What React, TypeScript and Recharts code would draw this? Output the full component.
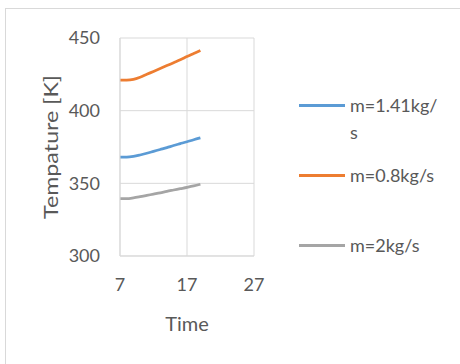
import React from "react";
import { LineChart, Line, XAxis, YAxis, CartesianGrid, Legend } from "recharts";

const times = [7, 8, 9, 10, 11, 12, 13, 14, 15, 16, 17, 18, 19];
const m141 = [368, 368, 368.5, 369.5, 370.7, 372, 373.3, 374.6, 376, 377.3, 378.6, 380, 381.3];
const m08 = [421, 421, 421.5, 423, 425, 427, 429, 431, 433, 435, 437.2, 439.3, 441.4];
const m2 = [339.5, 339.5, 340, 340.8, 341.7, 342.6, 343.5, 344.5, 345.4, 346.3, 347.2, 348.2, 349.4];
const xTicks = [7, 17, 27];
const yTicks = [300, 350, 400, 450];

const series = [
  { key: "a", name: "m=1.41kg/s", color: "#5B9BD5", values: m141 },
  { key: "b", name: "m=0.8kg/s", color: "#ED7D31", values: m08 },
  { key: "c", name: "m=2kg/s", color: "#A5A5A5", values: m2 },
];

const data = times.map((t, i) => ({ t, a: m141[i], b: m08[i], c: m2[i] }));

const font = "Lato, 'Open Sans', sans-serif";
const txt = "#595959";
const grid = "#D9D9D9";

// legend drawn in series order (recharts would sort it by name)
function LegendBox() {
  return (
    <div style={{ fontFamily: font, fontSize: 18, color: txt }}>
      {series.map((s) => (
        <div key={s.key} style={{ display: "flex", height: 70, alignItems: "flex-start" }}>
          <div style={{ width: 46, height: 27, display: "flex", alignItems: "center", marginRight: 5 }}>
            <div style={{ width: 46, height: 3, background: s.color }} />
          </div>
          <div style={{ width: 90, lineHeight: "27px", overflowWrap: "anywhere" }}>{s.name}</div>
        </div>
      ))}
    </div>
  );
}

// y title is taller in the original, so stretch it along its length
function YTitle(props: any) {
  const vb = props.viewBox || {};
  const cx = 50;
  const cy = vb.y + vb.height / 2;
  return (
    <text
      x={cx}
      y={cy}
      transform={`rotate(-90, ${cx}, ${cy})`}
      textAnchor="middle"
      dominantBaseline="central"
      fill={txt}
      fontSize={19}
      fontFamily={font}
      textLength={144}
      lengthAdjust="spacingAndGlyphs"
    >
      Tempature [K]
    </text>
  );
}

function XTitle(props: any) {
  const vb = props.viewBox || {};
  const cx = vb.x + vb.width / 2;
  const cy = vb.y + 67;
  return (
    <text x={cx} y={cy} textAnchor="middle" dominantBaseline="central" fill={txt} fontSize={20} fontFamily={font}>
      Time
    </text>
  );
}

export default function App() {
  return (
    <div style={{ position: "absolute", left: 0, top: 0, width: 460, height: 364, overflow: "hidden", background: "#fff" }}>
      <div style={{ position: "absolute", left: 5, top: 8, width: 480, height: 400, border: `1px solid ${grid}` }} />
      <LineChart
        width={460}
        height={364}
        data={data}
        margin={{ top: 38, right: 206, bottom: 48, left: 60 }}
        style={{ fontFamily: font }}
      >
        <CartesianGrid stroke={grid} strokeWidth={1} />
        <XAxis
          dataKey="t"
          type="number"
          domain={[7, 27]}
          ticks={xTicks}
          height={60}
          tickLine={false}
          axisLine={{ stroke: grid }}
          tick={{ fill: txt, fontSize: 18 }}
          tickMargin={16}
          label={<XTitle />}
        />
        <YAxis
          type="number"
          domain={[300, 450]}
          ticks={yTicks}
          width={60}
          tickLine={false}
          axisLine={{ stroke: grid }}
          tick={{ fill: txt, fontSize: 18 }}
          tickMargin={14}
          label={<YTitle />}
        />
        <Legend
          layout="vertical"
          align="center"
          verticalAlign="middle"
          wrapperStyle={{ left: 299, top: 92, width: 150 }}
          content={<LegendBox />}
        />
        {series.map((s) => (
          <Line
            key={s.key}
            dataKey={s.key}
            name={s.name}
            stroke={s.color}
            strokeWidth={2.75}
            dot={false}
            type="monotone"
            isAnimationActive={false}
          />
        ))}
      </LineChart>
    </div>
  );
}
